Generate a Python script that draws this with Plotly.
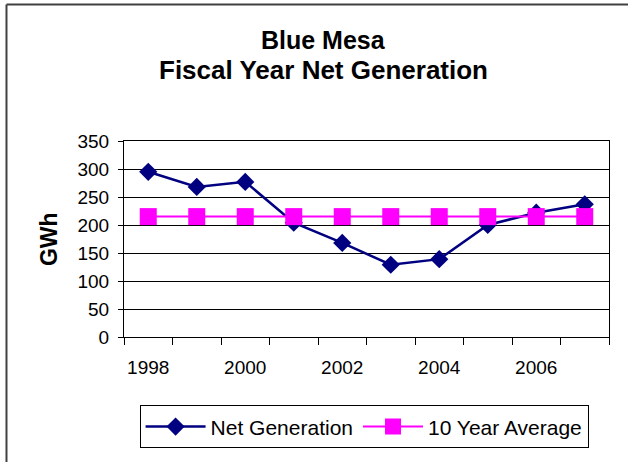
import plotly.graph_objects as go

# data
years = [1998, 1999, 2000, 2001, 2002, 2003, 2004, 2005, 2006, 2007]
net_gen = [295, 268, 277, 204, 168, 129, 139, 200, 222, 237]
ten_yr_avg = [215, 215, 215, 215, 215, 215, 215, 215, 215, 215]
label_years = [1998, 2000, 2002, 2004, 2006]
y_ticks = [0, 50, 100, 150, 200, 250, 300, 350]

font = "Liberation Sans, Arial, sans-serif"

fig = go.Figure()
fig.add_trace(go.Scatter(x=years, y=net_gen, name="Net Generation", mode="lines+markers",
                         line=dict(color="#000080", width=2.5),
                         marker=dict(symbol="diamond", size=14, color="#000080")))
fig.add_trace(go.Scatter(x=years, y=ten_yr_avg, name="10 Year Average", mode="lines+markers",
                         line=dict(color="#FF00FF", width=2),
                         marker=dict(symbol="square", size=17, color="#FF00FF")))

# boundaries between the year categories
bounds = [y - 0.5 for y in years] + [years[-1] + 0.5]

fig.update_layout(
    width=628, height=462,
    margin=dict(l=124, r=19, t=141, b=125, autoexpand=False),
    paper_bgcolor="white", plot_bgcolor="white",
    font=dict(family=font, size=19, color="black"),
    showlegend=True,
    legend=dict(orientation="h", x=0.495, xanchor="center", y=-0.459, yanchor="middle",
                bordercolor="black", borderwidth=1, font=dict(size=21),
                itemwidth=60, tracegroupgap=0),
    xaxis=dict(range=[bounds[0], bounds[-1]], tickvals=label_years, ticks="",
               showgrid=False, showline=True, linecolor="black", linewidth=1, mirror=True,
               zeroline=False, ticklabelstandoff=13,
               minor=dict(tickvals=bounds, ticks="outside", ticklen=7, tickcolor="black",
                          showgrid=False)),
    yaxis=dict(range=[0, 350], tickvals=y_ticks, ticks="outside", ticklen=5, tickcolor="black",
               showgrid=True, gridcolor="black", gridwidth=1,
               showline=True, linecolor="black", linewidth=1, mirror=True,
               zeroline=False, ticklabelstandoff=5),
)

fig.add_annotation(text="<b>Blue Mesa</b>", xref="paper", yref="paper", x=0.412, y=1.515,
                   showarrow=False, font=dict(size=25), xanchor="center", yanchor="middle")
fig.add_annotation(text="<b>Fiscal Year Net Generation</b>", xref="paper", yref="paper",
                   x=0.412, y=1.362, showarrow=False, font=dict(size=26),
                   xanchor="center", yanchor="middle")
fig.add_annotation(text="<b>GWh</b>", xref="paper", yref="paper", x=-0.1546, y=0.5,
                   textangle=-90, showarrow=False, font=dict(size=23),
                   xanchor="center", yanchor="middle")

# outer chart frame (only left and top edges are visible in the picture)
fig.add_shape(type="line", xref="paper", yref="paper", x0=-0.2423, x1=-0.2423, y0=1.696, y1=-1,
              line=dict(color="#404040", width=2))
fig.add_shape(type="line", xref="paper", yref="paper", x0=-0.2423, x1=1.5, y0=1.696, y1=1.696,
              line=dict(color="#404040", width=2))

# drop the default page margin so the figure sits at the window's corner
fig.write_html("out.html", config={"displayModeBar": False},
               post_script="document.body.style.margin='0px';")
